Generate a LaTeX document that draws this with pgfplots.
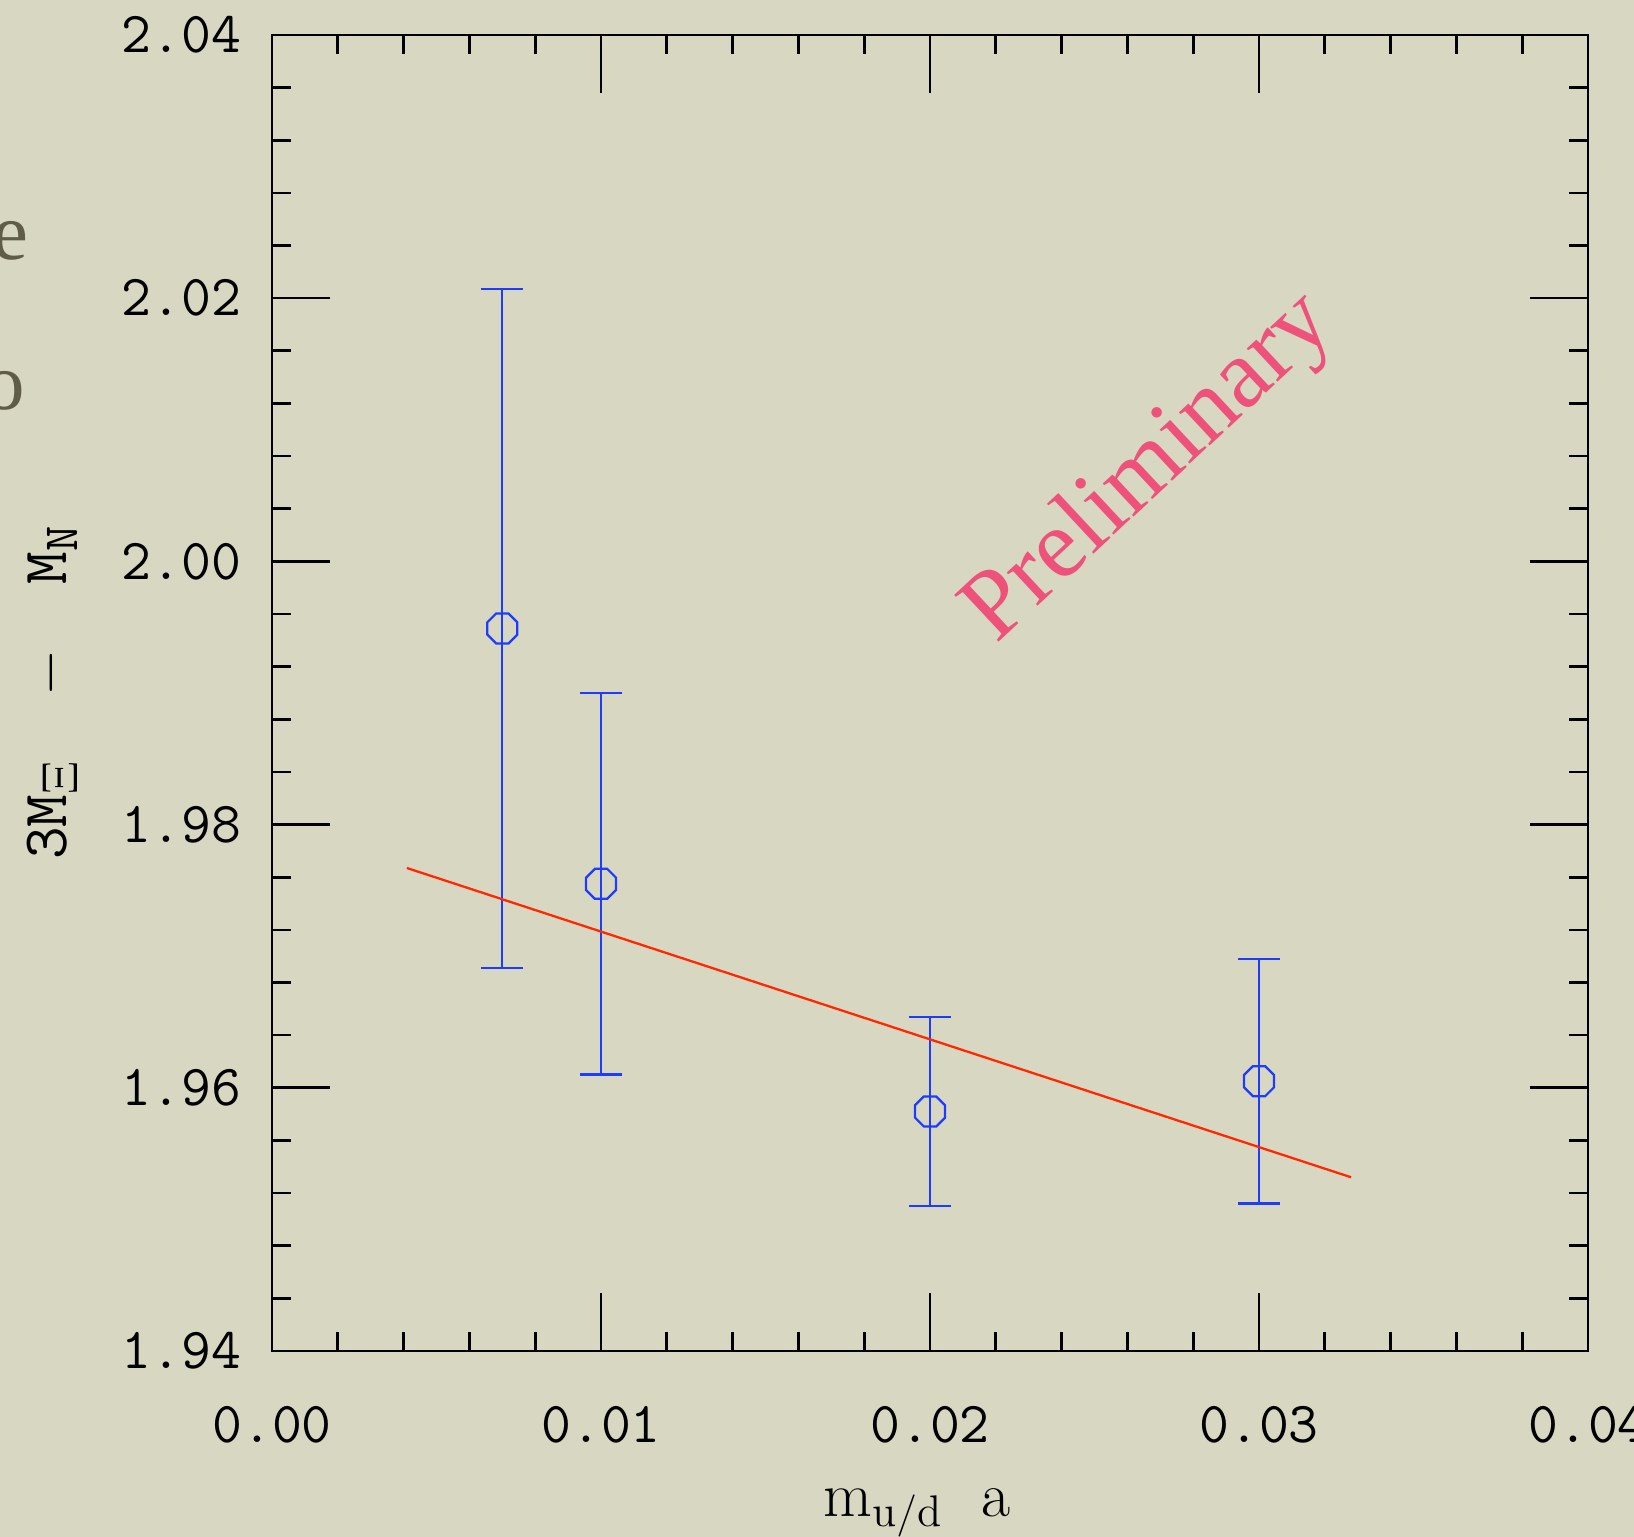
\documentclass[border=0pt]{standalone}
\usepackage{fontspec}
\usepackage{pgfplots}
\pgfplotsset{compat=1.18}
\newfontfamily\serifprelim{Liberation Serif}
\definecolor{bg}{RGB}{216,215,193}
\definecolor{pinktxt}{RGB}{238,82,122}
\definecolor{myblue}{RGB}{30,60,255}
\definecolor{myred}{RGB}{255,40,0}
\definecolor{olivetxt}{RGB}{95,92,72}
\pgfdeclareplotmark{octagon}{%
  \pgfpathmoveto{\pgfpointpolar{22.5}{\pgfplotmarksize}}%
  \pgfpathlineto{\pgfpointpolar{67.5}{\pgfplotmarksize}}%
  \pgfpathlineto{\pgfpointpolar{112.5}{\pgfplotmarksize}}%
  \pgfpathlineto{\pgfpointpolar{157.5}{\pgfplotmarksize}}%
  \pgfpathlineto{\pgfpointpolar{202.5}{\pgfplotmarksize}}%
  \pgfpathlineto{\pgfpointpolar{247.5}{\pgfplotmarksize}}%
  \pgfpathlineto{\pgfpointpolar{292.5}{\pgfplotmarksize}}%
  \pgfpathlineto{\pgfpointpolar{337.5}{\pgfplotmarksize}}%
  \pgfpathclose
  \pgfusepathqstroke}
\newcommand{\sub}[1]{\raisebox{-0.4ex}{\fontsize{14}{14}\selectfont #1}}
\begin{document}
\begin{tikzpicture}
\useasboundingbox (0,0) rectangle (16.34,15.37);
\fill[bg] (0,0) rectangle (16.34,15.37);
\node[anchor=base west, inner sep=0pt, text=olivetxt, font=\serifprelim\fontsize{23}{26}\selectfont] at (-0.08,12.77) {e};
\node[anchor=base west, inner sep=0pt, text=olivetxt, font=\serifprelim\fontsize{23}{26}\selectfont] at (-0.16,11.27) {o};
\begin{axis}[
  at={(2.72cm,1.86cm)}, anchor=south west,
  scale only axis, width=13.16cm, height=13.16cm,
  xmin=0, xmax=0.04, ymin=1.94, ymax=2.04,
  xtick={0,0.01,0.02,0.03,0.04},
  ytick={1.94,1.96,1.98,2.00,2.02,2.04},
  minor tick num=4,
  major tick length=0.58cm, minor tick length=0.19cm,
  tick align=inside,
  axis line style={line width=0.75pt, black},
  every tick/.append style={line width=0.75pt, black},
  scaled x ticks=false, scaled y ticks=false,
  /pgf/number format/.cd, fixed, fixed zerofill, precision=2, assume math mode=true,
  /pgfplots/.cd,
  ticklabel style={font=\ttfamily\fontsize{16.5}{20}\selectfont, inner sep=0pt},
  xticklabel style={anchor=base, yshift=-0.92cm},
  yticklabel style={anchor=east, xshift=-0.3cm},
  xlabel={m$_{\mathrm{u/d}}$\ \ a},
  ylabel={3M\sub{$\Xi$}\ \ $-$\ \ M\sub{N}},
  label style={font=\ttfamily\fontsize{18}{20}\selectfont},
  xlabel style={font=\rmfamily\fontsize{18}{20}\selectfont, at={(axis description cs:0.49,-0.1254)}, anchor=base},
  ylabel style={at={(axis description cs:-0.1672,0.5)}, anchor=center},
  clip=false,
]
\addplot[only marks, mark=octagon, mark size=0.162cm, myblue,
  mark options={solid, myblue, line width=0.65pt},
  error bars/.cd, y dir=both, y explicit,
  error bar style={line width=0.65pt, myblue},
  error mark options={rotate=90, myblue, line width=0.65pt, mark size=0.21cm}]
  coordinates {
  (0.007, 1.9949) +- (0, 0.0258)
  (0.010, 1.9755) +- (0, 0.0145)
  (0.020, 1.9582) +- (0, 0.0072)
  (0.030, 1.9605) +- (0, 0.0093)
  };
\addplot[myred, line width=0.65pt] coordinates {(0.0041,1.9767) (0.0328,1.9532)};
\node[rotate=43, text=pinktxt, font=\serifprelim\fontsize{28}{30}\selectfont] at (axis cs:0.0267,2.007) {Preliminary};
\end{axis}
\end{tikzpicture}
\end{document}
